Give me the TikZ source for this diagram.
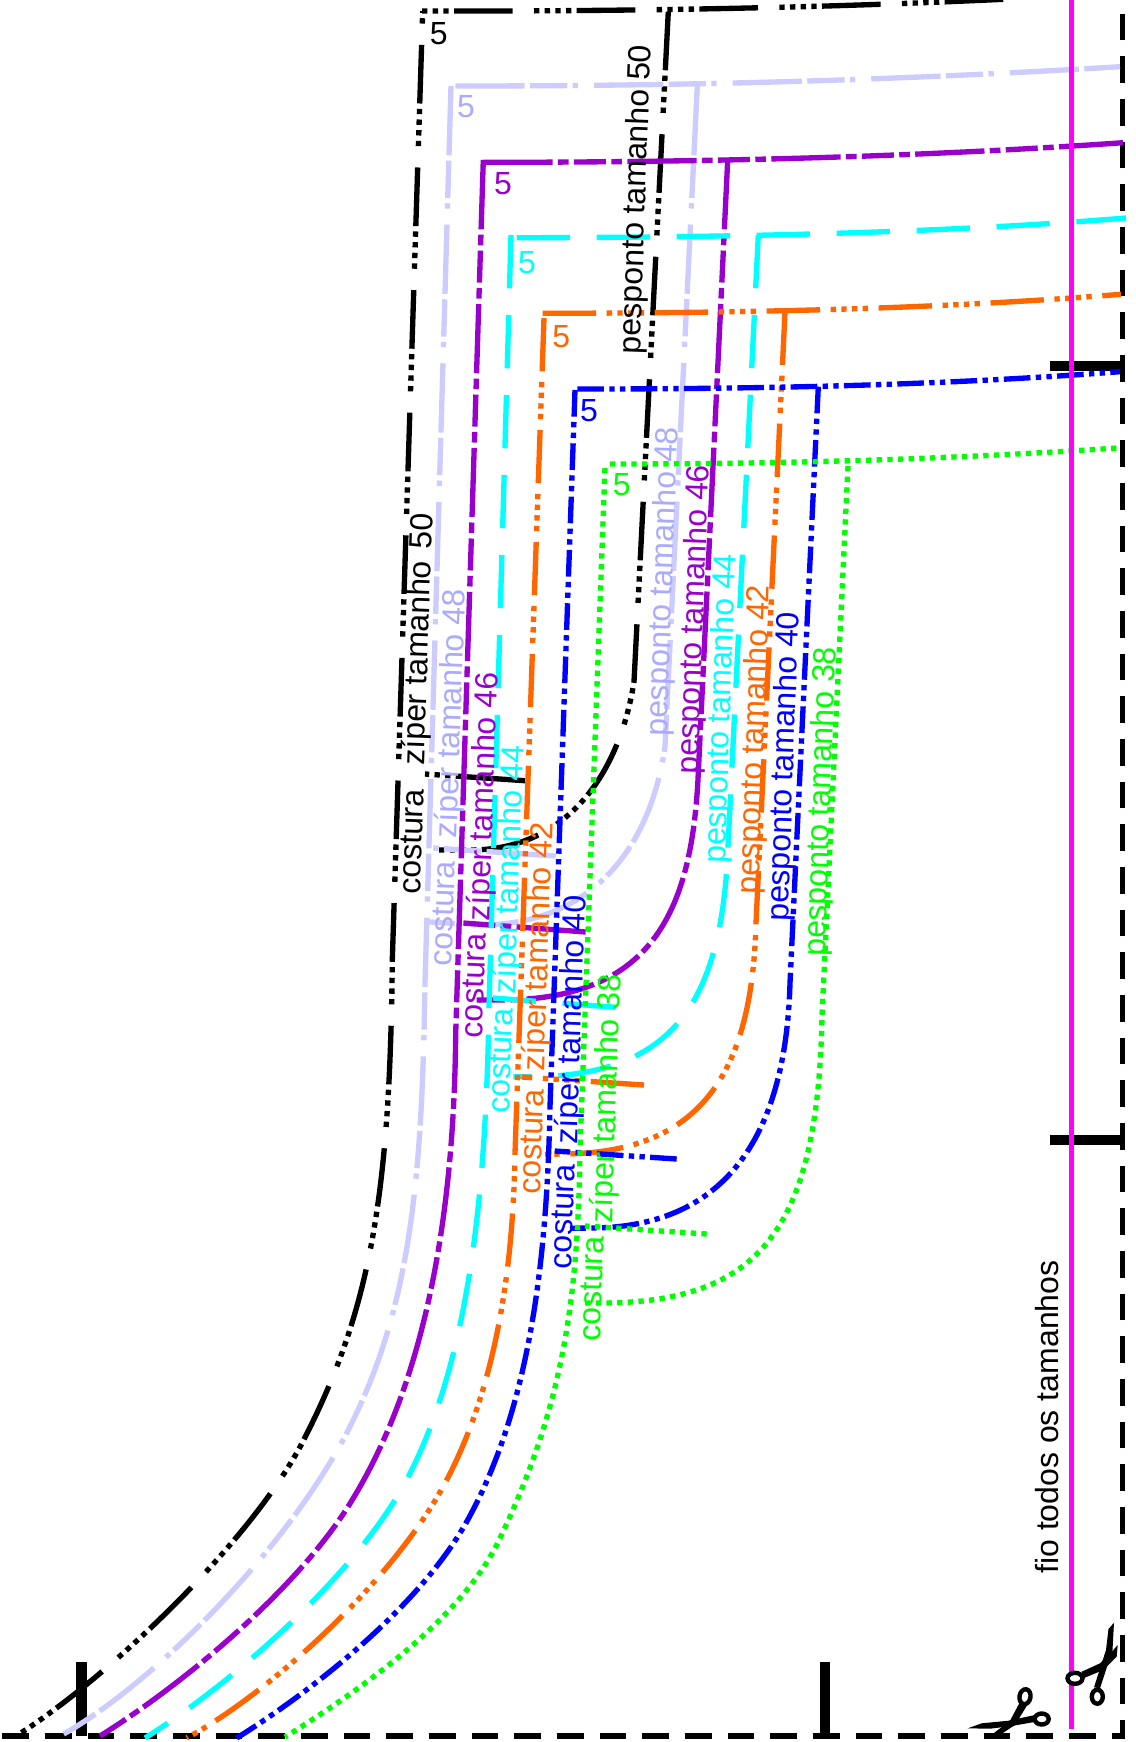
\documentclass[tikz,border=0pt]{standalone}
\usepackage{fontspec}
\setmainfont{Liberation Sans}
\definecolor{lavline}{HTML}{CCCCFF}
\definecolor{lavtext}{HTML}{AAAAFF}
\definecolor{purpleline}{HTML}{9900CC}
\definecolor{cyanline}{HTML}{00FFFF}
\definecolor{orangeline}{HTML}{FF6600}
\definecolor{blueline}{HTML}{0000FF}
\definecolor{greenline}{HTML}{00FF00}
\definecolor{pinkline}{HTML}{FF00FF}
\tikzset{
    % one pixel of the sheet is 0.5pt, so 2.667pt is one line width
    seam/.style={line width=2.667pt},
    line50/.style={seam,black,
           dash pattern=on 29.333pt off 2.667pt on 2.667pt off 2.667pt on 2.667pt off 2.667pt on 2.667pt off 2.667pt on 2.667pt off 10.667pt},
    line48/.style={seam,lavline,
           dash pattern=on 34.667pt off 2.667pt on 18.667pt off 2.667pt on 2.667pt off 8pt},
    line46/.style={seam,purpleline,
           dash pattern=on 34.667pt off 2.667pt on 5.333pt off 2.667pt on 16pt off 2.667pt on 5.333pt off 2.667pt},
    line44/.style={seam,cyanline,
           dash pattern=on 26.667pt off 13.333pt},
    line42/.style={seam,orangeline,
           dash pattern=on 26.667pt off 5.333pt on 2.667pt off 2.667pt on 2.667pt off 2.667pt on 2.667pt off 2.667pt on 2.667pt off 5.333pt},
    line40/.style={seam,blueline,
           dash pattern=on 13.333pt off 2.667pt on 2.667pt off 2.667pt on 2.667pt off 2.667pt},
    line38/.style={seam,greenline,
           dash pattern=on 2.667pt off 2.667pt},
    fold/.style={seam,black,dash pattern=on 13.333pt off 8pt},
    grain/.style={seam,pinkline},
    notch/.style={black,line width=5.333pt},
    label/.style={rotate=88,anchor=base west,inner sep=0pt,font=\fontsize{16}{19}\selectfont},
    five/.style={inner sep=0pt,font=\fontsize{16}{19}\selectfont},
    handle/.style={black,line width=2.2pt,fill=white},
}
\begin{document}
\begin{tikzpicture}[x=0.5pt,y=-0.5pt]
 \useasboundingbox (0,0) rectangle (1136,1742);

 % fold lines of the sheet
 \draw[fold] (2.3,1736) -- (1122.7,1736) -- (1122.7,0);
 \draw[notch] (1050,366) -- (1122.7,366);
 \draw[notch] (1050,1140) -- (1122.7,1140);
 \draw[notch] (825,1662) -- (825,1736);
 \draw[notch] (81.7,1662) -- (81.7,1736);

 % size 50
 \draw[line50,dash pattern=on 2.667pt off 2.667pt on 2.667pt off 2.667pt on 2.667pt off 2.667pt on 2.667pt off 2.667pt on 29.333pt off 10.667pt,dash phase=5.333pt]
  (422,11) .. controls (680,11.5) and (860,6) .. (1010,-1);
 \draw[line50,dash phase=44.4pt] (422.7,11) -- (392.3,960) .. controls (390,1200) and (369.7,1314) .. (300,1447) .. controls (244,1550) and (101,1683) .. (16,1736);
 \draw[line50] (668.3,11.7) -- (634,681.7) .. controls (620,770) and (570,850) .. (470,850) -- (438,850);
 \draw[line50] (525,780.7) -- (425,774);

 % size 48
 \draw[line48] (455.3,86) .. controls (700,86) and (900,80) .. (1120,66.7);
 \draw[line48] (451,86) -- (425,983) .. controls (422,1180) and (411,1309) .. (346.7,1433) .. controls (282,1557) and (145,1690) .. (60,1736);
 \draw[line48] (697.3,86) -- (665,746.7) .. controls (650,850) and (590,925) .. (480,925) -- (426,921.7);
 \draw[line48] (555.7,856) -- (433,848);

 % size 46
 \draw[line46] (483.3,162.3) .. controls (730,162.3) and (930,156) .. (1123,142.7);
 \draw[line46] (483.3,160) -- (455.7,1033) .. controls (454,1240) and (417.5,1397) .. (348,1506.7) .. controls (294.5,1591) and (185,1683) .. (100,1736);
 \draw[line46] (727.7,160) -- (698.3,773) .. controls (692,915) and (650,1000) .. (500,1000) -- (476.7,1000);
 \draw[line46] (585.7,932) -- (463.3,923);

 % size 44
 \draw[line44] (516.7,237.7) .. controls (760,237.5) and (960,231.5) .. (1126,218);
 \draw[line44] (511,235) -- (489,1006.7) .. controls (486,1200) and (468,1361) .. (408.3,1476.7) .. controls (357.8,1574.5) and (230,1685) .. (145,1738);
 \draw[line44] (758.3,235) -- (728,846.7) .. controls (722,1000) and (675,1076.7) .. (530,1076.7) -- (513.3,1076.7);
 \draw[line44] (615.7,1007.3) -- (493,998);

 % size 42
 \draw[line42] (542.7,313.3) .. controls (790,313) and (960,307) .. (1121,294.3);
 \draw[line42] (544,318) -- (515,1153) .. controls (513,1280) and (493,1391.4) .. (446.7,1480) .. controls (391,1586) and (263,1697) .. (186.7,1738);
 \draw[line42] (785,311.7) -- (756,923) .. controls (752,1075) and (700,1154) .. (560,1154) -- (545,1154.3);
 \draw[line42] (644,1085) -- (522,1077);

 % size 40
 \draw[line40] (577.3,389) .. controls (810,389) and (970,383) .. (1120,371.7);
 \draw[line40] (575,390) -- (550,1106.7) .. controls (547,1260) and (530,1408) .. (466.7,1521.7) .. controls (418,1609) and (309,1693) .. (236.7,1738);
 \draw[line40] (818.3,386.7) -- (790,983) .. controls (786,1130) and (730,1228) .. (590,1228) -- (570,1228.3);
 \draw[line40] (676.7,1159) -- (554.7,1151);

 % size 38
 \draw[line38] (610,464) .. controls (800,464) and (960,458.5) .. (1117,448);
 \draw[line38] (605,468) -- (580,1150) .. controls (578,1300) and (563.4,1406.7) .. (498.3,1541.7) .. controls (459,1622.7) and (353,1694.6) .. (285,1737);
 \draw[line38] (848,466) -- (822,1016) .. controls (818,1230) and (760,1303) .. (600,1303) -- (580,1303);
 \draw[line38] (706.7,1234) -- (585,1226);

 % straight grain
 \draw[grain] (1071.7,0) -- (1071.7,1729);

 % scissors on the fold corner
 \fill (967.7,1728.3) -- (981.7,1723.3) -- (1008.3,1720.7) -- (1035,1715) -- (1036,1721.7) -- (1011.7,1726) -- (990,1728.7) -- cycle;
 \fill (990,1736) -- (1010,1720.7) -- (1019.3,1703.3) -- (1026.7,1706) -- (1015,1725) -- (998.3,1736) -- cycle;
 \draw[handle,rotate around={-10:(1025,1696.7)}] (1025,1696.7) ellipse (5.5 and 7.5);
 \draw[handle] (1041.7,1719) ellipse (7 and 5.5);
 \fill (1114,1622.7) -- (1112.5,1650) -- (1100,1688.3) -- (1094,1687.3) -- (1106,1650) -- (1108.5,1629) -- cycle;
 \fill (1117.7,1645) -- (1116.7,1656.7) -- (1103.3,1670) -- (1083.3,1678.3) -- (1081.7,1671.7) -- (1100,1663.3) -- (1113.3,1650) -- cycle;
 \draw[handle] (1097.3,1696.7) ellipse (5.5 and 7);
 \draw[handle] (1075,1678.3) ellipse (7.5 and 5.5);

 % labels of each size
 \node[label,text=black] (Pesponto 50) at (640,355) {pesponto tamanho 50};
 \node[label,text=black] (Ziper 50) at (424,766) {zíper tamanho\kern1.5pt{} 50};
 \node[label,text=black] (Costura 50) at (420,895) {costura};
 \node[label,text=lavtext] (Pesponto 48) at (667,737) {pesponto tamanho 48};
 \node[label,text=lavtext] (Ziper 48) at (456.7,839) {zíper tamanho 48};
 \node[label,text=lavtext] (Costura 48) at (451.7,967) {costura};
 \node[label,text=purpleline] (Pesponto 46) at (698,775) {pesponto tamanho 46};
 \node[label,text=purpleline] (Ziper 46) at (489,922) {zíper tamanho 46};
 \node[label,text=purpleline] (Costura 46) at (482,1039) {costura};
 \node[label,text=cyanline] (Pesponto 44) at (725,864) {pesponto tamanho 44};
 \node[label,text=cyanline] (Ziper 44) at (515,995) {zíper tamanho 44};
 \node[label,text=cyanline] (Costura 44) at (509,1114) {costura};
 \node[label,text=orangeline] (Pesponto 42) at (758.5,895) {pesponto tamanho 42};
 \node[label,text=orangeline] (Ziper 42) at (544,1072) {zíper tamanho 42};
 \node[label,text=orangeline] (Costura 42) at (540,1195) {costura};
 \node[label,text=blueline] (Pesponto 40) at (788,922) {pesponto tamanho 40};
 \node[label,text=blueline] (Ziper 40) at (577,1145) {zíper tamanho 40};
 \node[label,text=blueline] (Costura 40) at (571,1270) {costura};
 \node[label,text=greenline] (Pesponto 38) at (825,957) {pesponto tamanho 38};
 \node[label,text=greenline] (Ziper 38) at (612,1224) {zíper tamanho 38};
 \node[label,text=greenline] (Costura 38) at (600,1342) {costura};
 \node[label,rotate=2,text=black] (Fio) at (1058,1574) {fio todos os tamanhos};

 % corner numbers
 \node[five,text=black] (Five 50) at (438.7,33.5) {5};
 \node[five,text=lavtext] (Five 48) at (466,107) {5};
 \node[five,text=purpleline] (Five 46) at (503,184) {5};
 \node[five,text=cyanline] (Five 44) at (527,262.5) {5};
 \node[five,text=orangeline] (Five 42) at (561.3,337) {5};
 \node[five,text=blueline] (Five 40) at (589,411) {5};
 \node[five,text=greenline] (Five 38) at (621.7,484.5) {5};
\end{tikzpicture}
\end{document}
